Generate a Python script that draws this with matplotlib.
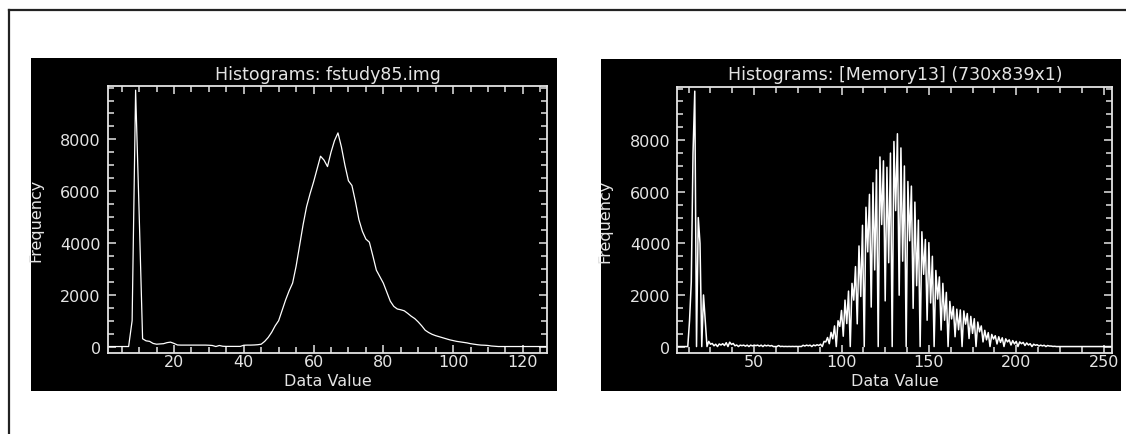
import numpy as np
import matplotlib
matplotlib.use('Agg')
import matplotlib.pyplot as plt
from matplotlib.ticker import MultipleLocator
from matplotlib.lines import Line2D

# histogram of fstudy85.img, data values 1..127
left_start = 1
left_counts = [0, 0, 0, 0, 0, 0, 0,
               1000, 9900, 5200,
               300, 220, 200, 120, 90, 100, 110, 150, 170, 120,
               60, 55, 55, 55, 55, 55, 55, 55, 55, 50,
               40, 0, 40, 10, 5, 5, 5, 5, 5, 50,
               55, 55, 60, 70, 90, 200, 350, 550, 800, 1000,
               1400, 1800, 2150, 2450, 3100, 3900, 4700, 5400, 5900, 6350,
               6850, 7350, 7200, 6950, 7500, 7950, 8250, 7700, 7000, 6400,
               6220, 5600, 4900, 4450, 4150, 4030, 3500, 2950, 2700, 2450,
               2100, 1750, 1550, 1450, 1420, 1380, 1280, 1170, 1080, 950,
               800, 630, 540, 470, 420, 380, 340, 300, 260, 230,
               200, 180, 160, 140, 110, 90, 70, 55, 50, 40,
               20, 10, 0, 0, 0, 0, 0, 0, 0, 0,
               0, 0, 0, 0, 0, 0, 0]

# histogram of [Memory13], data values 6..255
right_start = 6
right_counts = [0, 0, 0, 0, 0, 0, 0, 1000, 2500, 7500,
                9900, 0, 5000, 4000, 0, 2000, 1000, 0, 200, 90,
                120, 30, 90, 0, 100, 60, 110, 40, 150, 0,
                170, 80, 120, 30, 60, 0, 55, 35, 55, 15,
                55, 0, 55, 25, 55, 35, 55, 15, 55, 0,
                55, 25, 50, 20, 40, 0, 0, 0, 40, 0,
                10, 0, 5, 0, 5, 0, 5, 0, 5, 0,
                5, 0, 50, 20, 55, 30, 55, 0, 60, 30,
                70, 40, 90, 0, 200, 180, 350, 110, 550, 300,
                800, 0, 1000, 780, 1400, 400, 1800, 890, 2150, 0,
                2450, 1800, 3100, 880, 3900, 1940, 4700, 0, 5400, 3670,
                5900, 1530, 6350, 2970, 6850, 0, 7350, 4730, 7200, 1770,
                6950, 3250, 7500, 0, 7950, 5270, 8250, 1990, 7700, 3310,
                7000, 0, 6400, 4100, 6220, 1480, 5600, 2360, 4900, 0,
                4450, 2800, 4150, 1020, 4030, 1690, 3500, 0, 2950, 1840,
                2700, 640, 2450, 1020, 2100, 0, 1750, 1070, 1550, 380,
                1450, 650, 1420, 0, 1380, 870, 1280, 310, 1170, 510,
                1080, 0, 950, 570, 800, 180, 630, 260, 540, 0,
                470, 290, 420, 100, 380, 160, 340, 0, 300, 180,
                260, 60, 230, 100, 200, 0, 180, 110, 160, 40,
                140, 60, 110, 0, 90, 50, 70, 20, 55, 25,
                50, 0, 40, 20, 20, 5, 10, 0, 0, 0,
                0, 0, 0, 0, 0, 0, 0, 0, 0, 0,
                0, 0, 0, 0, 0, 0, 0, 0, 0, 0,
                0, 0, 0, 0, 0, 0, 0, 0, 0, 0]

left_xticks = [20, 40, 60, 80, 100, 120]
right_xticks = [50, 100, 150, 200, 250]
yticks = [0, 2000, 4000, 6000, 8000]
titles = ['Histograms: fstudy85.img', 'Histograms: [Memory13] (730x839x1)']

W, H = 1126, 435
fig = plt.figure(figsize=(W / 100, H / 100), dpi=100, facecolor='white')

def box(x0, y0, x1, y1):
    # pixel box (top-left origin) -> figure rect
    return [x0 / W, 1 - y1 / H, (x1 - x0) / W, (y1 - y0) / H]

fg = '#e4e4e4'

# outer frame (only top and left visible)
fig.add_artist(Line2D([8.5 / W, 1], [1 - 10.5 / H, 1 - 10.5 / H], color='#222222', lw=1.6))
fig.add_artist(Line2D([8.5 / W, 8.5 / W], [0, 1 - 10.5 / H], color='#222222', lw=1.6))

panels = [
    dict(bg=(31, 59, 557, 392), frame=(107.7, 87.3, 547.3, 354),
         start=left_start, counts=left_counts, xlim=(1, 127), lw=0.9,
         xticks=left_xticks, minor=5, title=titles[0]),
    dict(bg=(601, 60, 1121, 392), frame=(677.3, 88.3, 1112.3, 354),
         start=right_start, counts=right_counts, xlim=(6, 255), lw=1.1,
         xticks=right_xticks, minor=12.5, title=titles[1]),
]

for p in panels:
    bg = fig.add_axes(box(*p['bg']))
    bg.set_facecolor('black')
    bg.set_xticks([])
    bg.set_yticks([])
    for s in bg.spines.values():
        s.set_visible(False)

    ax = fig.add_axes(box(*p['frame']))
    ax.set_facecolor('black')
    x = np.arange(p['start'], p['start'] + len(p['counts']))
    ax.plot(x, p['counts'], color='white', lw=p['lw'])

    ax.set_xlim(*p['xlim'])
    ax.set_ylim(-250, 10050)
    ax.set_xticks(p['xticks'])
    ax.set_yticks(yticks)
    ax.xaxis.set_minor_locator(MultipleLocator(p['minor']))
    ax.yaxis.set_minor_locator(MultipleLocator(500))
    ax.tick_params(which='both', direction='in', top=True, right=True,
                   color=fg, labelcolor=fg, labelsize=11.5)
    ax.tick_params(which='major', length=6, width=1.1)
    ax.tick_params(which='minor', length=4, width=1.1)
    ax.tick_params(axis='x', pad=1)
    ax.tick_params(axis='y', pad=5)
    for s in ax.spines.values():
        s.set_color(fg)
        s.set_linewidth(1.3)

    fx0, fy0, fx1, fy1 = p['frame']
    cx = (fx0 + fx1) / 2
    fig.text(cx / W, 1 - 75 / H, p['title'], ha='center', va='center',
             color=fg, fontsize=12.5)
    fig.text(cx / W, 1 - 382 / H, 'Data Value', ha='center', va='center',
             color=fg, fontsize=11.5)
    fig.text((fx0 - 72) / W, 1 - (fy0 + fy1) / 2 / H, 'Frequency', ha='center',
             va='center', rotation=90, color=fg, fontsize=11.5)

fig.savefig('out.png', dpi=100, facecolor='white')
